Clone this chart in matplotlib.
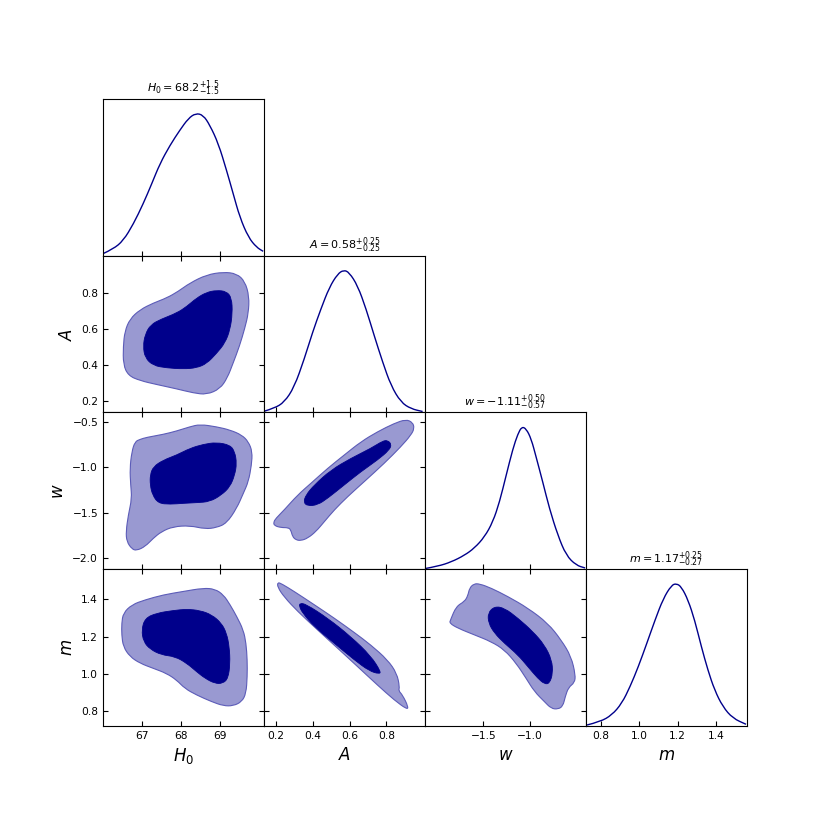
import numpy as np
import matplotlib
matplotlib.use("Agg")
import matplotlib.pyplot as plt
from matplotlib.path import Path
from matplotlib.patches import PathPatch

# ---------------- data ----------------
params = ["H0", "A", "w", "m"]
axis_labels = ["$H_0$", "$A$", "$w$", "$m$"]
titles = [r"$H_0 = 68.2^{+1.5}_{-1.5}$", r"$A = 0.58^{+0.25}_{-0.25}$",
          r"$w = -1.11^{+0.50}_{-0.57}$", r"$m = 1.17^{+0.25}_{-0.27}$"]
limits = [(66.0, 70.13), (0.135, 1.01), (-2.125, -0.397), (0.722, 1.562)]
ticks = [[67, 68, 69], [0.2, 0.4, 0.6, 0.8], [-1.5, -1.0], [0.8, 1.0, 1.2, 1.4]]
row_ticks = [[67, 68, 69], [0.2, 0.4, 0.6, 0.8], [-2.0, -1.5, -1.0, -0.5], [0.8, 1.0, 1.2, 1.4]]
tick_labels = [["67", "68", "69"], ["0.2", "0.4", "0.6", "0.8"], ["\u22121.5", "\u22121.0"],
               ["0.8", "1.0", "1.2", "1.4"]]
row_tick_labels = [["67", "68", "69"], ["0.2", "0.4", "0.6", "0.8"],
                   ["\u22122.0", "\u22121.5", "\u22121.0", "\u22120.5"],
                   ["0.8", "1.0", "1.2", "1.4"]]

# 1D marginals (normalised to peak 1)
h0_x = [66.01, 66.26, 66.52, 66.78, 67.03, 67.25, 67.46, 67.72, 67.97, 68.19, 68.38, 68.57,
        68.74, 68.96, 69.17, 69.34, 69.51, 69.73, 69.94, 70.11]
h0_p = [0.016, 0.047, 0.106, 0.223, 0.364, 0.505, 0.646, 0.776, 0.881, 0.964, 1.0, 0.987,
        0.917, 0.787, 0.599, 0.435, 0.270, 0.129, 0.059, 0.031]
a_x = [0.136, 0.191, 0.245, 0.299, 0.354, 0.399, 0.444, 0.490, 0.535, 0.568, 0.598, 0.644,
       0.690, 0.734, 0.780, 0.825, 0.879, 0.934, 0.997]
a_p = [0.009, 0.030, 0.072, 0.177, 0.376, 0.563, 0.726, 0.878, 0.972, 1.0, 0.983, 0.890,
       0.726, 0.539, 0.353, 0.189, 0.072, 0.026, 0.007]
w_x = [-2.123, -1.987, -1.844, -1.701, -1.594, -1.486, -1.397, -1.325, -1.254, -1.182, -1.128,
       -1.086, -1.039, -0.985, -0.932, -0.861, -0.789, -0.699, -0.610, -0.503, -0.406]
w_p = [0.005, 0.021, 0.051, 0.098, 0.149, 0.227, 0.332, 0.472, 0.659, 0.845, 0.950,
       1.0, 0.986, 0.915, 0.787, 0.612, 0.425, 0.238, 0.098, 0.028, 0.009]
m_x = [0.727, 0.796, 0.857, 0.909, 0.952, 0.995, 1.039, 1.082, 1.125, 1.168, 1.194, 1.220,
       1.255, 1.289, 1.324, 1.358, 1.393, 1.436, 1.488, 1.557]
m_p = [0.007, 0.030, 0.077, 0.159, 0.276, 0.416, 0.579, 0.743, 0.894, 0.988, 1.0, 0.976,
       0.883, 0.743, 0.556, 0.392, 0.252, 0.135, 0.054, 0.012]

# 2D contours: 95% (outer) and 68% (inner) boundaries
h0a_out_x = [69.09, 69.43, 69.64, 69.75, 69.73, 69.64, 69.50, 69.34, 69.19, 69.00, 68.66, 68.32,
             67.89, 67.38, 66.95, 66.65, 66.52, 66.52, 66.56, 66.69, 66.95, 67.29, 67.63, 67.93,
             68.23, 68.66]
h0a_out_y = [0.919, 0.910, 0.867, 0.783, 0.690, 0.607, 0.505, 0.412, 0.328, 0.267, 0.235, 0.244,
             0.267, 0.291, 0.313, 0.341, 0.402, 0.505, 0.588, 0.657, 0.709, 0.746, 0.774, 0.811,
             0.858, 0.904]
h0a_in_x = [68.91, 69.17, 69.30, 69.32, 69.26, 69.13, 68.91, 68.66, 68.40, 68.06, 67.63, 67.29,
            67.08, 67.03, 67.08, 67.22, 67.50, 67.89, 68.15, 68.40, 68.66]
h0a_in_y = [0.817, 0.811, 0.774, 0.690, 0.597, 0.523, 0.464, 0.408, 0.384, 0.378, 0.384, 0.397,
            0.440, 0.505, 0.570, 0.625, 0.657, 0.690, 0.727, 0.774, 0.806]

h0w_out_x = [66.95, 67.12, 67.55, 67.89, 68.23, 68.49, 68.91, 69.26, 69.56, 69.73, 69.83, 69.81,
             69.73, 69.60, 69.43, 69.17, 68.91, 68.62, 68.23, 67.80, 67.50, 67.29, 67.08, 66.86,
             66.74, 66.61, 66.59, 66.65, 66.74, 66.71, 66.69, 66.74, 66.82]
h0w_out_y = [-0.693, -0.671, -0.638, -0.601, -0.554, -0.528, -0.554, -0.590, -0.645, -0.719,
             -0.829, -0.976, -1.159, -1.288, -1.453, -1.618, -1.666, -1.681, -1.644, -1.655,
             -1.710, -1.783, -1.875, -1.919, -1.901, -1.820, -1.710, -1.526, -1.343, -1.196,
             -1.012, -0.829, -0.719]
h0w_in_x = [68.91, 69.26, 69.38, 69.43, 69.38, 69.26, 69.04, 68.74, 68.40, 68.06, 67.72, 67.42,
            67.27, 67.21, 67.21, 67.29, 67.55, 67.89, 68.23, 68.57]
h0w_in_y = [-0.726, -0.756, -0.829, -0.957, -1.086, -1.214, -1.306, -1.380, -1.391, -1.398,
            -1.409, -1.398, -1.306, -1.196, -1.086, -0.994, -0.921, -0.866, -0.792, -0.748]

h0m_out_x = [66.48, 66.48, 66.52, 66.74, 67.08, 67.55, 68.06, 68.57, 68.87, 69.09, 69.26, 69.43,
             69.60, 69.67, 69.70, 69.70, 69.67, 69.56, 69.34, 69.09, 68.79, 68.40, 68.10, 67.89,
             67.63, 67.29, 66.95, 66.69, 66.52]
h0m_out_y = [1.210, 1.273, 1.327, 1.372, 1.398, 1.425, 1.443, 1.461, 1.456, 1.425, 1.372, 1.309,
             1.237, 1.165, 1.076, 0.986, 0.897, 0.852, 0.830, 0.830, 0.852, 0.888, 0.923, 0.968,
             1.004, 1.031, 1.058, 1.094, 1.147]
h0m_in_x = [66.99, 67.08, 67.38, 67.80, 68.15, 68.49, 68.79, 69.04, 69.17, 69.24, 69.26, 69.21,
            69.07, 68.87, 68.62, 68.40, 68.15, 67.85, 67.50, 67.21, 67.04]
h0m_in_y = [1.237, 1.300, 1.327, 1.341, 1.348, 1.341, 1.318, 1.273, 1.219, 1.147, 1.058, 0.977,
            0.950, 0.950, 0.977, 1.013, 1.058, 1.094, 1.103, 1.133, 1.174]

aw_out_x = [0.906, 0.943, 0.952, 0.934, 0.879, 0.789, 0.680, 0.589, 0.517, 0.463, 0.417, 0.372,
            0.336, 0.309, 0.290, 0.281, 0.267, 0.227, 0.191, 0.187, 0.200, 0.245, 0.318, 0.390,
            0.481, 0.571, 0.662, 0.752, 0.843]
aw_out_y = [-0.473, -0.506, -0.572, -0.645, -0.774, -0.957, -1.159, -1.325, -1.471, -1.600,
            -1.710, -1.783, -1.809, -1.802, -1.765, -1.692, -1.666, -1.666, -1.644, -1.607,
            -1.563, -1.471, -1.306, -1.178, -1.012, -0.866, -0.719, -0.609, -0.517]
aw_in_x = [0.780, 0.807, 0.828, 0.816, 0.752, 0.662, 0.571, 0.481, 0.426, 0.372, 0.350, 0.363,
           0.408, 0.499, 0.607, 0.716]
aw_in_y = [-0.711, -0.704, -0.748, -0.811, -0.921, -1.049, -1.196, -1.343, -1.416, -1.427,
           -1.387, -1.306, -1.196, -1.031, -0.902, -0.792]

am_out_x = [0.209, 0.231, 0.299, 0.408, 0.517, 0.626, 0.716, 0.807, 0.857, 0.872, 0.866, 0.888,
            0.919, 0.912, 0.843, 0.752, 0.644, 0.535, 0.426, 0.318, 0.245, 0.209]
am_out_y = [1.492, 1.484, 1.443, 1.372, 1.300, 1.223, 1.156, 1.076, 1.004, 0.932, 0.911, 0.888,
            0.825, 0.811, 0.861, 0.941, 1.040, 1.139, 1.237, 1.336, 1.413, 1.466]
am_in_x = [0.330, 0.363, 0.481, 0.607, 0.716, 0.770, 0.761, 0.707, 0.626, 0.517, 0.408, 0.345,
           0.327]
am_in_y = [1.380, 1.375, 1.300, 1.201, 1.097, 1.013, 1.001, 1.017, 1.076, 1.165, 1.255, 1.327,
           1.363]

wm_out_x = [-1.600, -1.540, -1.415, -1.236, -1.021, -0.807, -0.663, -0.556, -0.510, -0.520,
            -0.585, -0.620, -0.645, -0.699, -0.771, -0.842, -0.950, -1.039, -1.146, -1.272,
            -1.415, -1.593, -1.772, -1.862, -1.851, -1.790, -1.701, -1.665, -1.647]
wm_out_y = [1.484, 1.484, 1.461, 1.416, 1.354, 1.273, 1.183, 1.094, 0.995, 0.954, 0.929, 0.879,
            0.828, 0.812, 0.816, 0.852, 0.906, 0.977, 1.058, 1.130, 1.174, 1.210, 1.246, 1.273,
            1.291, 1.363, 1.389, 1.420, 1.461]
wm_in_x = [-1.379, -1.272, -1.128, -0.967, -0.842, -0.764, -0.753, -0.789, -0.842, -0.914,
           -1.021, -1.128, -1.272, -1.379, -1.443, -1.450]
wm_in_y = [1.363, 1.354, 1.300, 1.228, 1.156, 1.076, 1.004, 0.950, 0.947, 0.977, 1.040, 1.103,
           1.165, 1.219, 1.273, 1.327]

marginals = [(h0_x, h0_p), (a_x, a_p), (w_x, w_p), (m_x, m_p)]
contours = {
    (1, 0): (h0a_out_x, h0a_out_y, h0a_in_x, h0a_in_y),
    (2, 0): (h0w_out_x, h0w_out_y, h0w_in_x, h0w_in_y),
    (3, 0): (h0m_out_x, h0m_out_y, h0m_in_x, h0m_in_y),
    (2, 1): (aw_out_x, aw_out_y, aw_in_x, aw_in_y),
    (3, 1): (am_out_x, am_out_y, am_in_x, am_in_y),
    (3, 2): (wm_out_x, wm_out_y, wm_in_x, wm_in_y),
}

# ---------------- style ----------------
dark = "#00008B"
light = "#9999d1"
edge = "#5c5cb8"
tick_fs = 7.7
label_fs = 12
title_fs = 8


def smooth_closed(x, y):
    pts = np.column_stack([x, y])
    mids = (pts + np.roll(pts, -1, axis=0)) / 2.0
    verts = [mids[-1]]
    codes = [Path.MOVETO]
    for i in range(len(pts)):
        verts += [pts[i], mids[i]]
        codes += [Path.CURVE3, Path.CURVE3]
    verts.append(mids[-1])
    codes.append(Path.CLOSEPOLY)
    return Path(verts, codes)


def smooth_open(x, y):
    pts = np.column_stack([x, y])
    verts = [pts[0]]
    codes = [Path.MOVETO]
    for i in range(1, len(pts) - 1):
        verts += [pts[i], (pts[i] + pts[i + 1]) / 2.0]
        codes += [Path.CURVE3, Path.CURVE3]
    verts.append(pts[-1])
    codes.append(Path.LINETO)
    return Path(verts, codes)


fig, axes = plt.subplots(4, 4, figsize=(8.3, 8.3), dpi=100)
fig.subplots_adjust(left=103 / 830, right=747 / 830, bottom=1 - 726 / 830, top=1 - 99 / 830,
                    wspace=0, hspace=0)

n = len(params)
for i in range(n):
    for j in range(n):
        ax = axes[i, j]
        if j > i:
            ax.set_visible(False)
            continue
        ax.set_xlim(*limits[j])
        ax.set_xticks(ticks[j])
        if i == n - 1:
            ax.set_xticklabels(tick_labels[j], fontsize=tick_fs)
            ax.set_xlabel(axis_labels[j], fontsize=label_fs)
        else:
            ax.set_xticklabels([])
        if i == j:
            xs, ps = marginals[i]
            ax.add_patch(PathPatch(smooth_open(xs, ps), facecolor="none", edgecolor=dark, lw=1.0))
            ax.set_ylim(0, 1.1)
            ax.set_yticks([])
            ax.tick_params(axis="x", direction="in", top=False, bottom=True)
            ax.set_title(titles[i], fontsize=title_fs, pad=5)
        else:
            ox, oy, ix, iy = contours[(i, j)]
            ax.add_patch(PathPatch(smooth_closed(ox, oy), facecolor=light, edgecolor=edge,
                                   lw=0.8, zorder=2))
            ax.add_patch(PathPatch(smooth_closed(ix, iy), facecolor=dark, edgecolor=dark,
                                   lw=0.6, zorder=3))
            ax.set_ylim(*limits[i])
            ax.set_yticks(row_ticks[i])
            if j == 0:
                ax.set_yticklabels(row_tick_labels[i], fontsize=tick_fs)
                ax.set_ylabel(axis_labels[i], fontsize=label_fs)
            else:
                ax.set_yticklabels([])
            ax.tick_params(direction="in", top=True, right=True, bottom=True, left=True)

fig.savefig("out.png", dpi=100)
